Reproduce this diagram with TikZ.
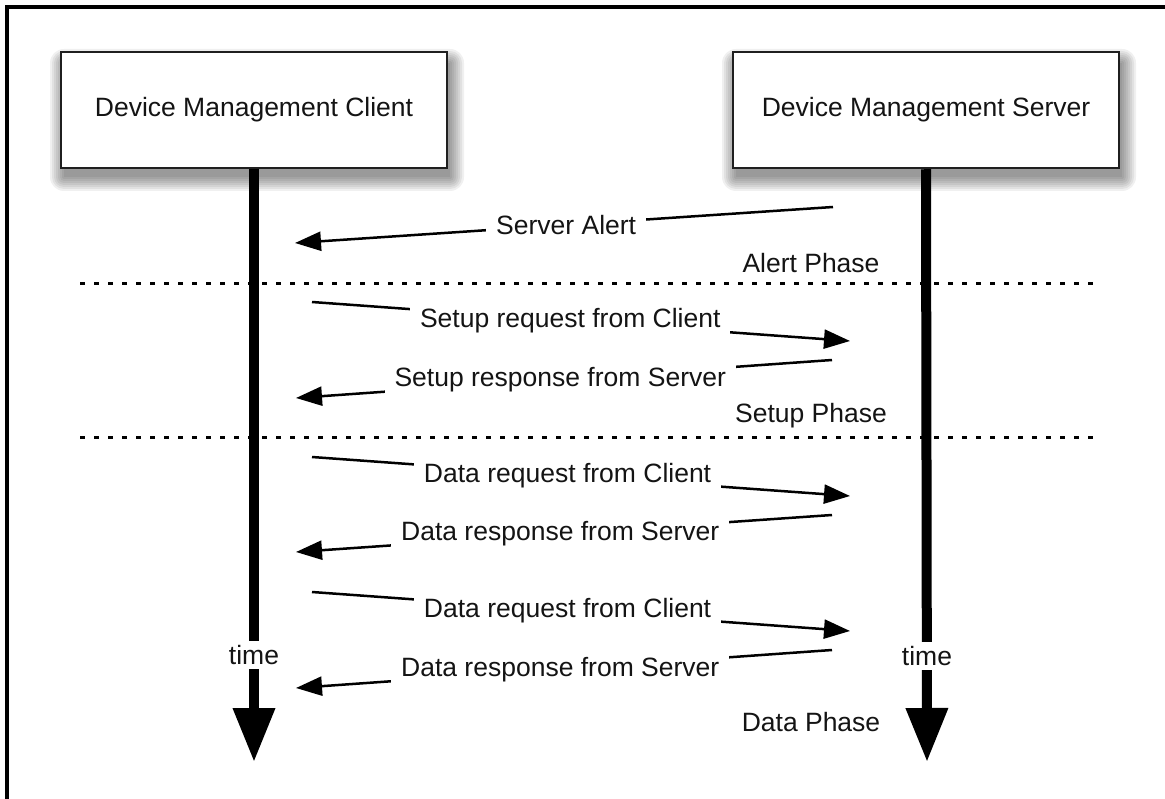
\documentclass[tikz,border=0pt]{standalone}
\usepackage{fontspec}
\setmainfont{Liberation Sans}
\usetikzlibrary{arrows.meta}
\begin{document}
\begin{tikzpicture}[x=1pt,y=-1pt,
  lbl/.style={font=\fontsize{26.5}{30}\selectfont, text=black!92},
  box/.style={draw=black!88, line width=2.5pt, fill=white, minimum width=386pt, minimum height=116pt, lbl},
  life/.style={line width=10pt, -{Triangle[length=54pt,width=40pt]}},
  msg/.style={line width=2.5pt, -{Triangle[length=26pt,width=19pt]}},
  msglbl/.style={lbl, fill=white, inner xsep=10pt, inner ysep=2pt},
  timelbl/.style={lbl, fill=white, inner xsep=0pt, inner ysep=4pt},
  phase/.style={line width=3pt, dash pattern=on 4.5pt off 9.5pt},
  frame/.style={line width=4pt}
]
\useasboundingbox (0,0) rectangle (1165,799);
\fill[white] (0,0) rectangle (1165,799);

% frame (top and left edges)
\coordinate (fa) at (7,805);
\coordinate (fb) at (7,7.5);
\coordinate (fc) at (1170,7.5);
\draw[frame] (fa) -- (fb) -- (fc);

% soft shadows of the boxes
\foreach \cx in {254,926}{
  \foreach \e in {0,2,...,14}{
    \fill[black,opacity=0.06,rounded corners=\e pt]
      (\cx-193+3-\e, 52+11-\e) rectangle (\cx+193+3+\e, 168+9+\e);
  }
}

% boxes
\node[box] (cli) at (254,110) {Device Management Client};
\node[box] (srv) at (926,110) {Device Management Server};

% phase separators
\coordinate (d1a) at (80,284);
\coordinate (d1b) at (1100,284);
\coordinate (d2a) at (80,438);
\coordinate (d2b) at (1100,438);
\draw[phase] (d1a) -- (d1b);
\draw[phase] (d2a) -- (d2b);

% lifelines
\coordinate (cliend) at (254,762);
\coordinate (srvend) at (927,762);
\draw[life] (cli.south) -- (cliend);
\draw[life] (srv.south) -- (srvend);
\node[timelbl] (tc) at (254,655) {time};
\node[timelbl] (ts) at (927,656) {time};

% messages
\coordinate (m1s) at (833,207); \coordinate (m1e) at (295,243);
\draw[msg] (m1s) -- node[msglbl, pos=0.496] (m1) {Server Alert} (m1e);

\coordinate (m2s) at (312,302); \coordinate (m2e) at (850,341);
\draw[msg] (m2s) -- node[msglbl, pos=0.48] (m2) {Setup request from Client} (m2e);

\coordinate (m3s) at (832,360); \coordinate (m3e) at (296,398);
\draw[msg] (m3s) -- node[msglbl, pos=0.507] (m3) {Setup response from Server} (m3e);

\coordinate (m4s) at (312,457); \coordinate (m4e) at (850,496);
\draw[msg] (m4s) -- node[msglbl, pos=0.475] (m4) {Data request from Client} (m4e);

\coordinate (m5s) at (832,515); \coordinate (m5e) at (296,552);
\draw[msg] (m5s) -- node[msglbl, pos=0.507] (m5) {Data response from Server} (m5e);

\coordinate (m6s) at (312,592); \coordinate (m6e) at (850,631);
\draw[msg] (m6s) -- node[msglbl, pos=0.475] (m6) {Data request from Client} (m6e);

\coordinate (m7s) at (832,650); \coordinate (m7e) at (296,688);
\draw[msg] (m7s) -- node[msglbl, pos=0.507] (m7) {Data response from Server} (m7e);

% phase labels
\node[lbl] (pa) at (811,263) {Alert Phase};
\node[lbl] (ps) at (811,416) {Setup Phase};
\node[lbl] (pd) at (811,722) {Data Phase};
\end{tikzpicture}
\end{document}
